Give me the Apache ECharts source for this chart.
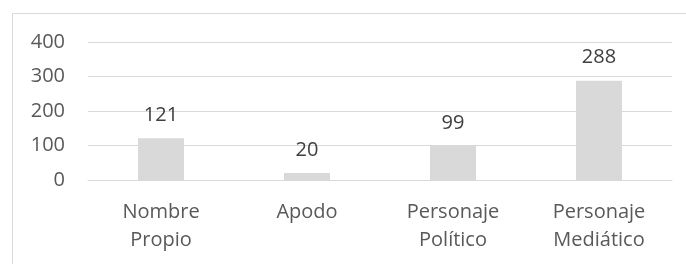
<!DOCTYPE html>
<html>
<head>
<meta charset="utf-8">
<script src="https://cdn.jsdelivr.net/npm/echarts@6/dist/echarts.min.js"></script>
<style>
  html, body { margin: 0; padding: 0; background: #fff; }
  #chart { width: 686px; height: 264px; }
</style>
</head>
<body>
<div id="chart"></div>
<script>
const categories = ['Nombre\nPropio', 'Apodo', 'Personaje\nPolítico', 'Personaje\nMediático'];
const counts = [121, 20, 99, 288];
const yTicks = [0, 100, 200, 300, 400];

const textColor = '#595959';
const fontFamily = '"Open Sans", sans-serif';

const chart = echarts.init(document.getElementById('chart'));
chart.setOption({
  animation: false,
  grid: { left: 88, right: 14, top: 42, bottom: 84 },
  graphic: [
    { type: 'line', shape: { x1: 12.5, y1: 13.5, x2: 686, y2: 13.5 }, style: { stroke: '#d9d9d9', lineWidth: 1 } },
    { type: 'line', shape: { x1: 12.5, y1: 13.5, x2: 12.5, y2: 264 }, style: { stroke: '#d9d9d9', lineWidth: 1 } }
  ],
  xAxis: {
    type: 'category',
    data: categories,
    axisTick: { show: false },
    axisLine: { lineStyle: { color: '#d9d9d9' } },
    axisLabel: { color: textColor, fontFamily, fontSize: 20, lineHeight: 28, margin: 18 }
  },
  yAxis: {
    type: 'value',
    min: yTicks[0],
    max: yTicks[yTicks.length - 1],
    interval: 100,
    axisLine: { show: false },
    axisTick: { show: false },
    splitLine: { lineStyle: { color: '#d9d9d9' } },
    axisLabel: { color: textColor, fontFamily, fontSize: 20, margin: 23 }
  },
  series: [{
    type: 'bar',
    data: counts,
    barWidth: '31.5%',
    itemStyle: { color: '#d9d9d9' },
    label: {
      show: true,
      position: 'top',
      distance: 13,
      color: '#404040',
      fontFamily,
      fontSize: 20
    }
  }]
});
</script>
</body>
</html>
